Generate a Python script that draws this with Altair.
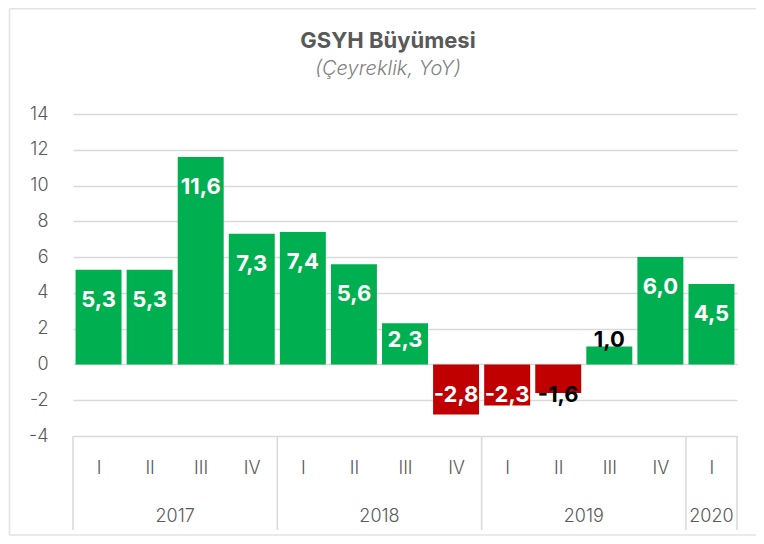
import altair as alt
import pandas as pd

quarters = ["I", "II", "III", "IV", "I", "II", "III", "IV", "I", "II", "III", "IV", "I"]
years = ["2017"] * 4 + ["2018"] * 4 + ["2019"] * 4 + ["2020"]
values = [5.3, 5.3, 11.6, 7.3, 7.4, 5.6, 2.3, -2.8, -2.3, -1.6, 1.0, 6.0, 4.5]
year_names = ["2017", "2018", "2019", "2020"]
y_ticks = [-4, -2, 0, 2, 4, 6, 8, 10, 12, 14]
title_text = "GSYH Büyümesi"
subtitle_text = "(Çeyreklik, YoY)"

W, H = 664, 322
FONT = "Inter"
GRID = "#D9D9D9"
TXT = "#595959"


def label_pos(v):
    if v >= 3:
        return v - 1.68
    if v >= 1.5:
        return v - 0.95
    if v > 0:
        return v + 0.35
    return -1.73


rows = []
for i, (q, yr, v) in enumerate(zip(quarters, years, values)):
    rows.append(dict(
        i=i, q=q, year=yr, v=v, x0=i - 0.45, x1=i + 0.45,
        sign="pos" if v >= 0 else "neg",
        label=f"{v:.1f}".replace(".", ","),
        lp=label_pos(v),
        lc="#000000" if abs(v) < 1.75 else "#FFFFFF",
    ))
df = pd.DataFrame(rows)

yr_rows = []
seps = set()
for yn in year_names:
    idx = [r["i"] for r in rows if r["year"] == yn]
    yr_rows.append(dict(year=yn, xc=(min(idx) + max(idx)) / 2))
    seps.add(min(idx) - 0.5)
    seps.add(max(idx) + 0.5)
yr_df = pd.DataFrame(yr_rows)
sep_df = pd.DataFrame({"sx": sorted(seps)})

xscale = alt.Scale(domain=[-0.5, len(values) - 0.5], nice=False, zero=False)
yscale = alt.Scale(domain=[-4, 14], nice=False)

q_expr = "[" + ",".join(f"'{q}'" for q in quarters) + "][datum.value]"

x_axis = alt.Axis(
    values=list(range(len(values))), labelExpr=q_expr, title=None, grid=False,
    ticks=False, domain=False, labelPadding=32, labelBaseline="middle",
    labelOverlap=False, labelFlush=False,
    labelFontSize=18, labelColor=TXT, labelFont=FONT, labelFontWeight=300)
y_axis = alt.Axis(
    values=y_ticks, labelExpr="datum.value + ''", title=None, grid=True,
    gridColor=GRID, gridWidth=1.5, ticks=False, domain=False, labelPadding=25,
    labelOverlap=False, labelFlush=False,
    labelFontSize=18, labelColor=TXT, labelFont=FONT, labelFontWeight=300)

bars = alt.Chart(df).mark_bar().encode(
    x=alt.X("x0:Q", scale=xscale, axis=x_axis),
    x2="x1:Q",
    y=alt.Y("v:Q", scale=yscale, axis=y_axis),
    y2=alt.datum(0),
    color=alt.Color("sign:N", scale=alt.Scale(domain=["pos", "neg"], range=["#00B050", "#C00000"]), legend=None),
)

labels = alt.Chart(df).mark_text(font=FONT, fontWeight="bold", fontSize=22, baseline="middle").encode(
    x=alt.X("i:Q", scale=xscale, axis=x_axis),
    y=alt.Y("lp:Q", scale=yscale, axis=y_axis),
    text="label:N",
    color=alt.Color("lc:N", scale=None),
)

year_text = alt.Chart(yr_df).mark_text(font=FONT, fontWeight=300, fontSize=18, color=TXT, baseline="middle").encode(
    x=alt.X("xc:Q", scale=xscale, axis=x_axis),
    y=alt.value(H + 81),
    text="year:N",
)

sep_rules = alt.Chart(sep_df).mark_rule(color=GRID, strokeWidth=1.5).encode(
    x=alt.X("sx:Q", scale=xscale, axis=x_axis),
    y=alt.value(H),
    y2=alt.value(H + 94),
)

frame = alt.Chart(pd.DataFrame({"a": [0]}))
border_top = frame.mark_rule(color="#E3E3E3", strokeWidth=1.5).encode(
    x=alt.value(-63.5), x2=alt.value(W + 19), y=alt.value(-105.3))
border_left = frame.mark_rule(color="#E3E3E3", strokeWidth=1.5).encode(
    x=alt.value(-63.5), y=alt.value(-105.3), y2=alt.value(H + 99))
border_bottom = frame.mark_rule(color="#E3E3E3", strokeWidth=1.5).encode(
    x=alt.value(-63.5), x2=alt.value(W + 19), y=alt.value(H + 99))

title_df = pd.DataFrame({"t": [title_text]})
sub_df = pd.DataFrame({"t": [subtitle_text]})
title_mark = alt.Chart(title_df).mark_text(
    font=FONT, fontSize=22, fontWeight="bold", color=TXT, baseline="alphabetic", align="center"
).encode(x=alt.value(315), y=alt.value(-66), text="t:N")
sub_mark = alt.Chart(sub_df).mark_text(
    font=FONT, fontSize=20, fontStyle="italic", fontWeight=300, color="#7F7F7F",
    baseline="alphabetic", align="center"
).encode(x=alt.value(315), y=alt.value(-39), text="t:N")

chart = alt.layer(border_top, border_left, border_bottom, sep_rules, bars, labels, year_text,
                  title_mark, sub_mark).properties(
    width=W, height=H,
    autosize=alt.AutoSizeParams(type="none"),
    padding={"left": 65, "top": 106, "right": 19, "bottom": 100},
).configure_view(strokeWidth=0)

chart.save("out.html", embed_options={"renderer": "svg", "actions": False})
